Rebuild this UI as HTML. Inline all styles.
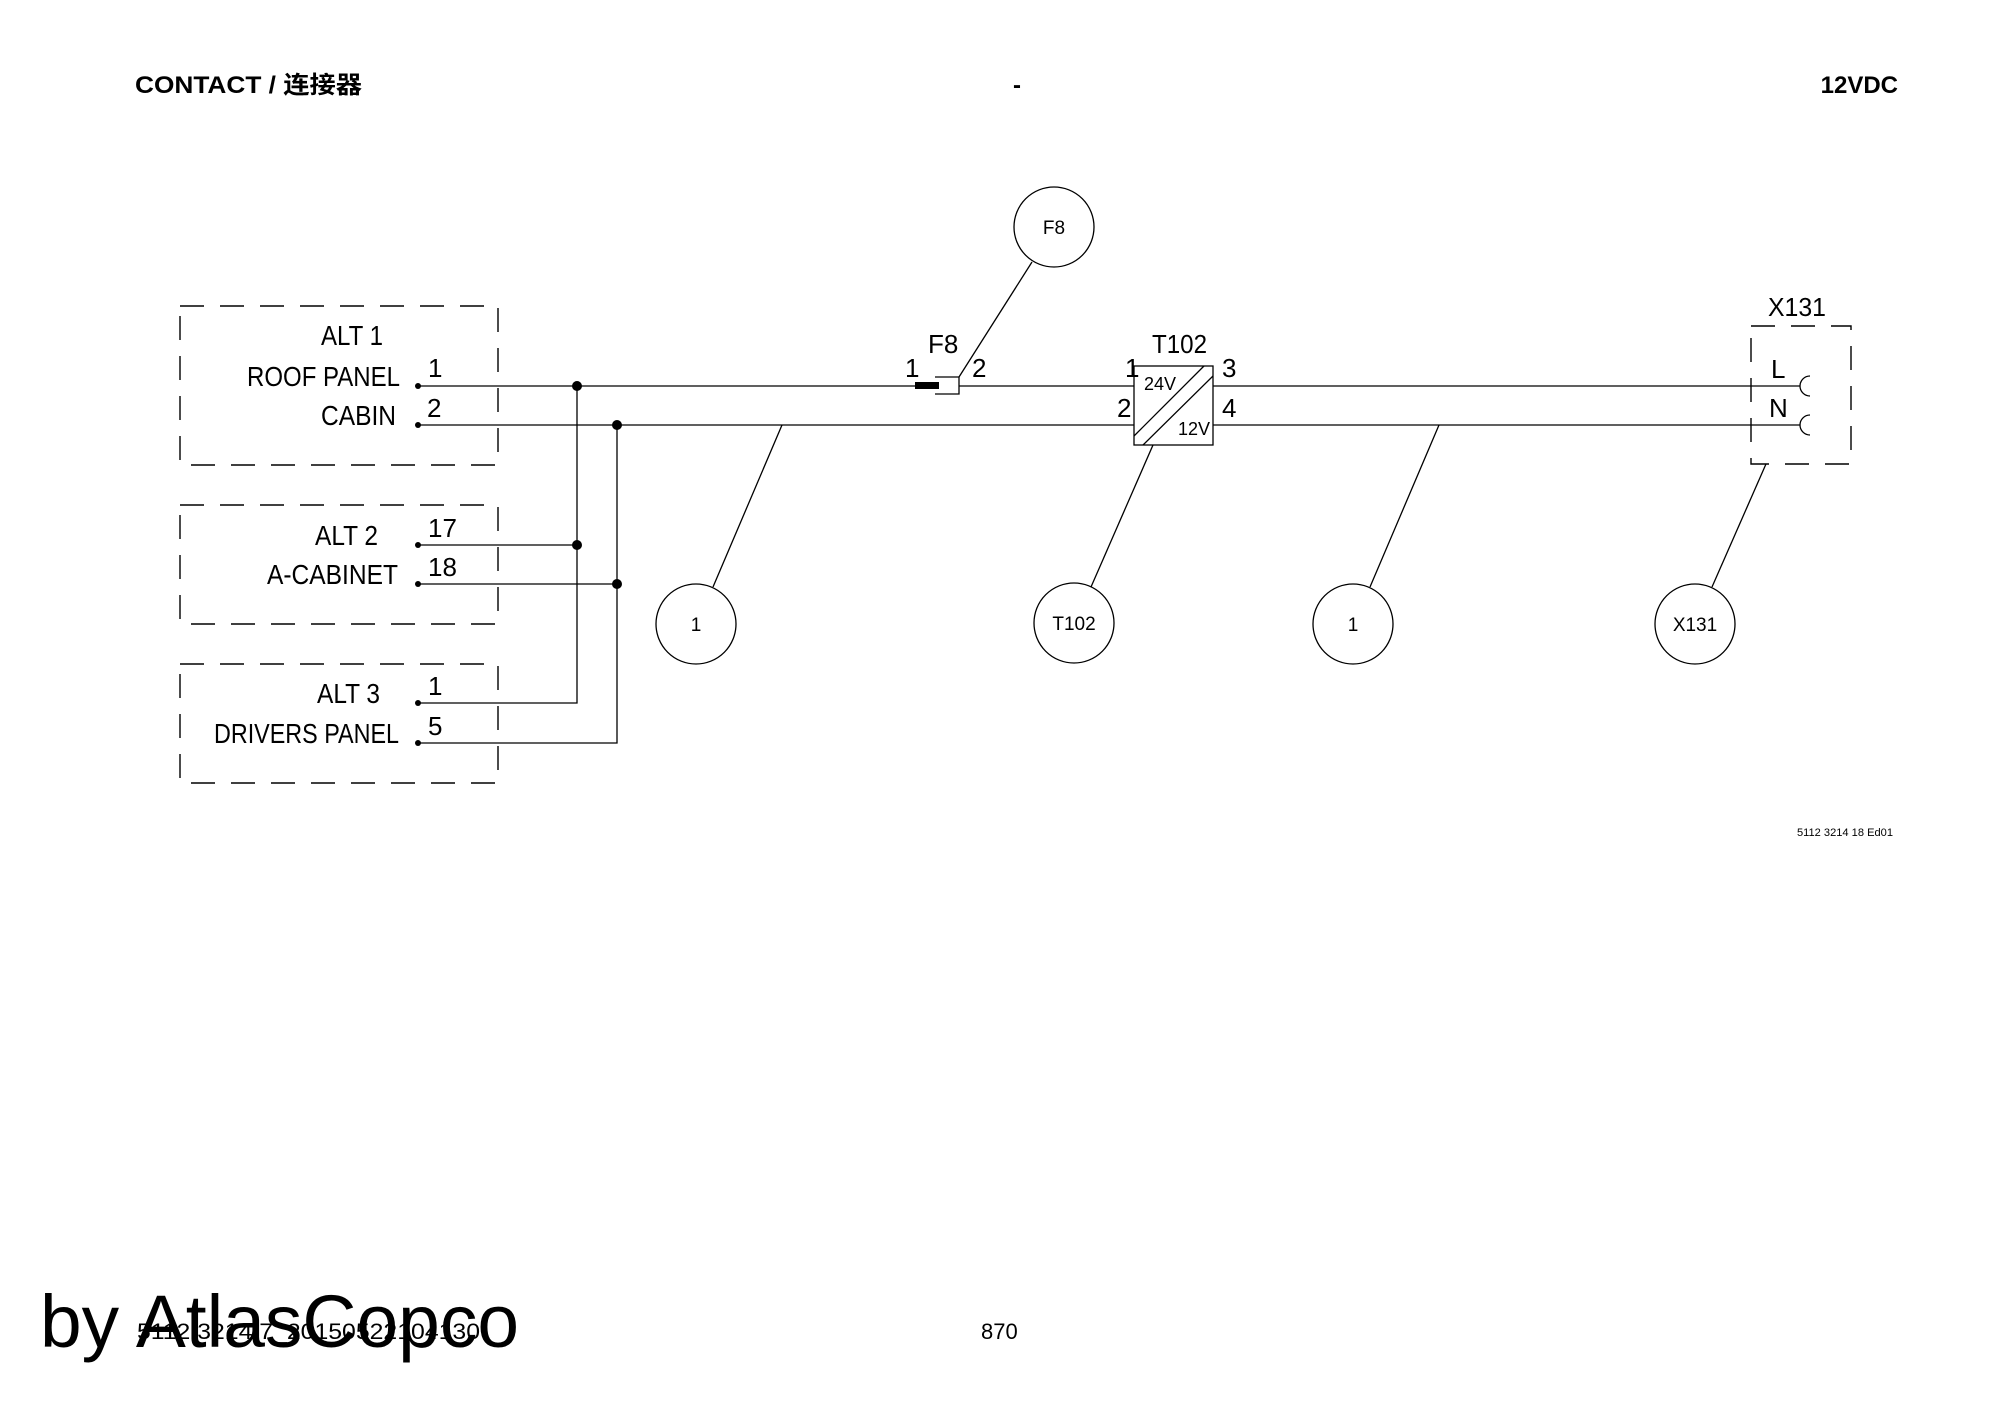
<!DOCTYPE html>
<html><head><meta charset="utf-8"><style>
html,body{margin:0;padding:0;background:#fff;}
svg{display:block;}
text{font-family:"Liberation Sans","Noto Sans CJK SC",sans-serif;fill:#000;}
</style></head><body>
<svg width="2000" height="1414" viewBox="0 0 2000 1414" xmlns="http://www.w3.org/2000/svg">
<g font-weight="bold" font-size="24">
<text x="135" y="93" textLength="227" lengthAdjust="spacingAndGlyphs">CONTACT / 连接器</text>
<text x="1013" y="93">-</text>
<text x="1898" y="93" text-anchor="end">12VDC</text>
</g>
<g fill="none" stroke="#000" stroke-width="1.4" stroke-dasharray="24 16">
<rect x="180" y="306" width="318" height="159"/>
<rect x="180" y="505" width="318" height="119"/>
<rect x="180" y="664" width="318" height="119"/>
<rect x="1751" y="326" width="100" height="138"/>
</g>
<g stroke="#000" stroke-width="1.3" fill="none">
<line x1="418" y1="386" x2="915" y2="386"/>
<line x1="959" y1="386" x2="1134" y2="386"/>
<line x1="418" y1="425" x2="1134" y2="425"/>
<line x1="1213" y1="386" x2="1800" y2="386"/>
<line x1="1213" y1="425" x2="1800" y2="425"/>
<line x1="418" y1="545" x2="577" y2="545"/>
<line x1="418" y1="584" x2="617" y2="584"/>
<polyline points="418,703 577,703 577,386"/>
<polyline points="418,743 617,743 617,425"/>
<polyline points="935,377 959,377 959,394 935,394"/>
<line x1="959" y1="377" x2="1032" y2="262"/>
<rect x="1134" y="366" width="79" height="79"/>
<line x1="1134" y1="436" x2="1204" y2="366"/>
<line x1="1143" y1="445" x2="1213" y2="376"/>
<line x1="782" y1="425" x2="713" y2="587"/>
<line x1="1153" y1="445" x2="1091" y2="587"/>
<line x1="1439" y1="425" x2="1370" y2="587"/>
<line x1="1766" y1="464" x2="1712" y2="587"/>
<path d="M1810,376 A10,10 0 0 0 1810,396"/>
<path d="M1810,415 A10,10 0 0 0 1810,435"/>
<circle cx="1054" cy="227" r="40"/>
<circle cx="696" cy="624" r="40"/>
<circle cx="1074" cy="623" r="40"/>
<circle cx="1353" cy="624" r="40"/>
<circle cx="1695" cy="624" r="40"/>
</g>
<rect x="915" y="382" width="24" height="7" fill="#000"/>
<g fill="#000">
<circle cx="418" cy="386" r="3"/><circle cx="418" cy="425" r="3"/>
<circle cx="418" cy="545" r="3"/><circle cx="418" cy="584" r="3"/>
<circle cx="418" cy="703" r="3"/><circle cx="418" cy="743" r="3"/>
<circle cx="577" cy="386" r="5"/><circle cx="577" cy="545" r="5"/>
<circle cx="617" cy="425" r="5"/><circle cx="617" cy="584" r="5"/>
</g>
<g font-size="28">
<text x="321" y="345" textLength="62" lengthAdjust="spacingAndGlyphs">ALT 1</text>
<text x="247" y="386" textLength="153" lengthAdjust="spacingAndGlyphs">ROOF PANEL</text>
<text x="321" y="425" textLength="75" lengthAdjust="spacingAndGlyphs">CABIN</text>
<text x="315" y="545" textLength="63" lengthAdjust="spacingAndGlyphs">ALT 2</text>
<text x="267" y="584" textLength="131" lengthAdjust="spacingAndGlyphs">A-CABINET</text>
<text x="317" y="703" textLength="63" lengthAdjust="spacingAndGlyphs">ALT 3</text>
<text x="214" y="743" textLength="185" lengthAdjust="spacingAndGlyphs">DRIVERS PANEL</text>
</g>
<g font-size="26">
<text x="428" y="377">1</text>
<text x="427" y="417">2</text>
<text x="428" y="537">17</text>
<text x="428" y="576">18</text>
<text x="428" y="695">1</text>
<text x="428" y="735">5</text>
<text x="928" y="353">F8</text>
<text x="905" y="377">1</text>
<text x="972" y="377">2</text>
<text x="1152" y="353" textLength="55" lengthAdjust="spacingAndGlyphs">T102</text>
<text x="1125" y="377">1</text>
<text x="1117" y="417">2</text>
<text x="1222" y="377">3</text>
<text x="1222" y="417">4</text>
<text x="1768" y="316" textLength="58" lengthAdjust="spacingAndGlyphs">X131</text>
<text x="1771" y="378">L</text>
<text x="1769" y="417">N</text>
</g>
<g font-size="18">
<text x="1144" y="390">24V</text>
<text x="1178" y="435">12V</text>
</g>
<g font-size="19" text-anchor="middle">
<text x="1054" y="234">F8</text>
<text x="696" y="631">1</text>
<text x="1074" y="630">T102</text>
<text x="1353" y="631">1</text>
<text x="1695" y="631">X131</text>
</g>
<text x="1797" y="836" font-size="11" textLength="96" lengthAdjust="spacingAndGlyphs">5112 3214 18 Ed01</text>
<text x="137" y="1339" font-size="22" textLength="343" lengthAdjust="spacingAndGlyphs">5112 3214 7_20150522104130</text>
<text x="981" y="1339" font-size="22">870</text>
<text x="40" y="1347" font-size="74" textLength="479" lengthAdjust="spacingAndGlyphs">by AtlasCopco</text>
</svg>
</body></html>
